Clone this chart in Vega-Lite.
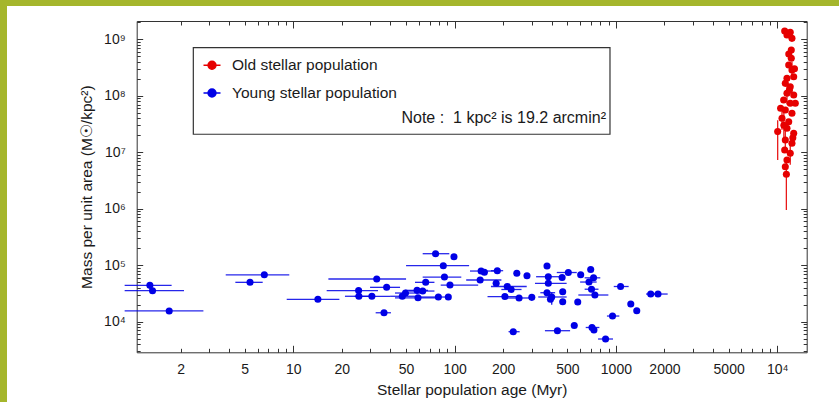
{
  "$schema": "https://vega.github.io/schema/vega-lite/v6.json",
  "autosize": {"type": "none"},
  "width": 832,
  "height": 396,
  "padding": {"left": 7, "top": 6, "right": 0, "bottom": 0},
  "background": "#a5b62c",
  "config": {
    "view": {"fill": "white", "stroke": null},
    "font": "Liberation Sans",
    "axis": {
      "grid": false,
      "domainColor": "#333333",
      "tickColor": "#333333",
      "tickWidth": 1,
      "labelColor": "#1a1a1a",
      "titleColor": "#1a1a1a",
      "labelFont": "Liberation Sans",
      "titleFont": "Liberation Sans",
      "titleFontWeight": "normal",
      "labelFontSize": 14,
      "titleFontSize": 15.5,
      "labelFlush": false,
      "labelOverlap": false
    },
    "legend": {
      "orient": "none", "legendX": 195.5, "legendY": 49.8, "zindex": 2,
      "padding": 0,
      "symbolType": "M-1,0H1M0.47,0A0.47,0.47,0,1,1,-0.47,0A0.47,0.47,0,1,1,0.47,0Z",
      "symbolSize": 289, "symbolStrokeWidth": 1.4, "symbolOpacity": 1,
      "labelFont": "Liberation Sans", "labelFontSize": 15.5, "labelColor": "#1a1a1a",
      "labelOffset": 10.5, "rowPadding": 9.7, "labelLimit": 300
    }
  },
  "data": {"name": "pops"},
  "datasets": {
    "pops": [
      {"pop": "Young stellar population", "age": 1.29, "mass": 44000, "age_lo": 0.9, "age_hi": 1.76},
      {"pop": "Young stellar population", "age": 1.34, "mass": 35400, "age_lo": 0.9, "age_hi": 2.10},
      {"pop": "Young stellar population", "age": 1.70, "mass": 15500, "age_lo": 0.9, "age_hi": 2.77},
      {"pop": "Young stellar population", "age": 5.39, "mass": 49800, "age_lo": 4.37, "age_hi": 6.46},
      {"pop": "Young stellar population", "age": 6.61, "mass": 67600, "age_lo": 3.81, "age_hi": 9.44},
      {"pop": "Young stellar population", "age": 14.2, "mass": 24900, "age_lo": 9.1, "age_hi": 19.3},
      {"pop": "Young stellar population", "age": 32.9, "mass": 57000, "age_lo": 16.5, "age_hi": 50.0},
      {"pop": "Young stellar population", "age": 25.4, "mass": 35600, "age_lo": 16.1, "age_hi": 33.5},
      {"pop": "Young stellar population", "age": 25.5, "mass": 28200, "age_lo": 20.9, "age_hi": 30.7},
      {"pop": "Young stellar population", "age": 30.7, "mass": 28200, "age_lo": 24.0, "age_hi": 39.8},
      {"pop": "Young stellar population", "age": 37.9, "mass": 40600, "age_lo": 29.9, "age_hi": 45.9},
      {"pop": "Young stellar population", "age": 36.5, "mass": 14400, "age_lo": 32.4, "age_hi": 40.3},
      {"pop": "Young stellar population", "age": 47.4, "mass": 28200, "age_lo": 39.8, "age_hi": 56.8},
      {"pop": "Young stellar population", "age": 49.6, "mass": 32200, "age_lo": 42.7, "age_hi": 61.0},
      {"pop": "Young stellar population", "age": 58.5, "mass": 35900, "age_lo": 49.2, "age_hi": 68.4},
      {"pop": "Young stellar population", "age": 63.4, "mass": 34900, "age_lo": 52.0, "age_hi": 75.0},
      {"pop": "Young stellar population", "age": 59.3, "mass": 26500, "age_lo": 42.7, "age_hi": 81.0},
      {"pop": "Young stellar population", "age": 66.2, "mass": 49800, "age_lo": 56.8, "age_hi": 75.0},
      {"pop": "Young stellar population", "age": 76.2, "mass": 160000, "age_lo": 63.4, "age_hi": 92.7},
      {"pop": "Young stellar population", "age": 99.1, "mass": 141000},
      {"pop": "Young stellar population", "age": 85.1, "mass": 98000, "age_lo": 50.0, "age_hi": 123},
      {"pop": "Young stellar population", "age": 86.5, "mass": 61800, "age_lo": 63.4, "age_hi": 110},
      {"pop": "Young stellar population", "age": 93.6, "mass": 44600, "age_lo": 82.0, "age_hi": 140},
      {"pop": "Young stellar population", "age": 79.3, "mass": 27350, "age_lo": 61.6, "age_hi": 93.6},
      {"pop": "Young stellar population", "age": 91.4, "mass": 27350},
      {"pop": "Young stellar population", "age": 146, "mass": 78900, "age_lo": 124.5, "age_hi": 178},
      {"pop": "Young stellar population", "age": 153, "mass": 74900},
      {"pop": "Young stellar population", "age": 144, "mass": 54700, "age_lo": 118, "age_hi": 195},
      {"pop": "Young stellar population", "age": 184, "mass": 80000, "age_lo": 168, "age_hi": 200},
      {"pop": "Young stellar population", "age": 181, "mass": 47800},
      {"pop": "Young stellar population", "age": 212, "mass": 42000, "age_lo": 168, "age_hi": 280},
      {"pop": "Young stellar population", "age": 224, "mass": 37200, "age_lo": 195, "age_hi": 260},
      {"pop": "Young stellar population", "age": 205, "mass": 27900, "age_lo": 160, "age_hi": 260},
      {"pop": "Young stellar population", "age": 251, "mass": 26300, "age_lo": 205, "age_hi": 300},
      {"pop": "Young stellar population", "age": 231, "mass": 6650, "age_lo": 216, "age_hi": 253},
      {"pop": "Young stellar population", "age": 243, "mass": 71900},
      {"pop": "Young stellar population", "age": 281, "mass": 64900},
      {"pop": "Young stellar population", "age": 301, "mass": 27000},
      {"pop": "Young stellar population", "age": 374, "mass": 96800},
      {"pop": "Young stellar population", "age": 381, "mass": 62600, "age_lo": 320, "age_hi": 470},
      {"pop": "Young stellar population", "age": 381, "mass": 47800, "age_lo": 315, "age_hi": 495},
      {"pop": "Young stellar population", "age": 374, "mass": 32600, "age_lo": 340, "age_hi": 420},
      {"pop": "Young stellar population", "age": 400, "mass": 27400, "age_lo": 330, "age_hi": 495, "mass_lo": 20000, "mass_hi": 33000},
      {"pop": "Young stellar population", "age": 393, "mass": 24900},
      {"pop": "Young stellar population", "age": 464, "mass": 60600},
      {"pop": "Young stellar population", "age": 507, "mass": 74300, "age_lo": 430, "age_hi": 572},
      {"pop": "Young stellar population", "age": 468, "mass": 34000},
      {"pop": "Young stellar population", "age": 468, "mass": 22600},
      {"pop": "Young stellar population", "age": 580, "mass": 22300},
      {"pop": "Young stellar population", "age": 605, "mass": 67600},
      {"pop": "Young stellar population", "age": 698, "mass": 83900},
      {"pop": "Young stellar population", "age": 727, "mass": 59800, "age_lo": 640, "age_hi": 800},
      {"pop": "Young stellar population", "age": 681, "mass": 50400, "age_lo": 600, "age_hi": 760},
      {"pop": "Young stellar population", "age": 706, "mass": 37600, "age_lo": 640, "age_hi": 780},
      {"pop": "Young stellar population", "age": 741, "mass": 29700, "age_lo": 585, "age_hi": 898},
      {"pop": "Young stellar population", "age": 434, "mass": 6930, "age_lo": 363, "age_hi": 520},
      {"pop": "Young stellar population", "age": 552, "mass": 8570},
      {"pop": "Young stellar population", "age": 711, "mass": 7900, "age_lo": 650, "age_hi": 790},
      {"pop": "Young stellar population", "age": 731, "mass": 7130},
      {"pop": "Young stellar population", "age": 863, "mass": 4940, "age_lo": 775, "age_hi": 960},
      {"pop": "Young stellar population", "age": 953, "mass": 12600, "age_lo": 880, "age_hi": 1050},
      {"pop": "Young stellar population", "age": 1069, "mass": 42000, "age_lo": 970, "age_hi": 1200},
      {"pop": "Young stellar population", "age": 1237, "mass": 20600},
      {"pop": "Young stellar population", "age": 1347, "mass": 15650},
      {"pop": "Young stellar population", "age": 1644, "mass": 30900, "age_lo": 1538, "age_hi": 1750},
      {"pop": "Young stellar population", "age": 1824, "mass": 30900, "age_lo": 1700, "age_hi": 2094},
      {"pop": "Old stellar population", "age": 11130, "mass": 1.40e9},
      {"pop": "Old stellar population", "age": 12050, "mass": 1.33e9},
      {"pop": "Old stellar population", "age": 11500, "mass": 1.19e9},
      {"pop": "Old stellar population", "age": 12350, "mass": 1.04e9},
      {"pop": "Old stellar population", "age": 12230, "mass": 6.47e8},
      {"pop": "Old stellar population", "age": 11800, "mass": 5.5e8},
      {"pop": "Old stellar population", "age": 12230, "mass": 4.61e8},
      {"pop": "Old stellar population", "age": 11790, "mass": 3.51e8},
      {"pop": "Old stellar population", "age": 12800, "mass": 3.0e8},
      {"pop": "Old stellar population", "age": 12350, "mass": 2.86e8, "mass_lo": 2.0e8, "mass_hi": 4.0e8},
      {"pop": "Old stellar population", "age": 12660, "mass": 2.18e8},
      {"pop": "Old stellar population", "age": 11500, "mass": 2.04e8},
      {"pop": "Old stellar population", "age": 11230, "mass": 1.66e8},
      {"pop": "Old stellar population", "age": 12050, "mass": 1.45e8},
      {"pop": "Old stellar population", "age": 11900, "mass": 1.25e8},
      {"pop": "Old stellar population", "age": 11500, "mass": 1.11e8, "mass_lo": 7.0e7, "mass_hi": 1.6e8},
      {"pop": "Old stellar population", "age": 12660, "mass": 1.03e8},
      {"pop": "Old stellar population", "age": 10970, "mass": 8.43e7},
      {"pop": "Old stellar population", "age": 12050, "mass": 7.37e7},
      {"pop": "Old stellar population", "age": 12950, "mass": 7.37e7},
      {"pop": "Old stellar population", "age": 10500, "mass": 6.0e7},
      {"pop": "Old stellar population", "age": 11230, "mass": 5.61e7},
      {"pop": "Old stellar population", "age": 12350, "mass": 4.90e7},
      {"pop": "Old stellar population", "age": 10710, "mass": 4.00e7, "mass_lo": 2.5e7, "mass_hi": 6.0e7},
      {"pop": "Old stellar population", "age": 11790, "mass": 3.48e7},
      {"pop": "Old stellar population", "age": 11000, "mass": 3.0e7, "mass_lo": 1.5e7, "mass_hi": 5.0e7},
      {"pop": "Old stellar population", "age": 11500, "mass": 2.66e7},
      {"pop": "Old stellar population", "age": 10070, "mass": 2.32e7, "mass_lo": 7.3e6, "mass_hi": 3.7e7},
      {"pop": "Old stellar population", "age": 12660, "mass": 2.17e7},
      {"pop": "Old stellar population", "age": 12500, "mass": 1.8e7},
      {"pop": "Old stellar population", "age": 11230, "mass": 1.65e7, "mass_lo": 1.1e7, "mass_hi": 2.4e7},
      {"pop": "Old stellar population", "age": 12350, "mass": 1.44e7},
      {"pop": "Old stellar population", "age": 11130, "mass": 1.10e7},
      {"pop": "Old stellar population", "age": 12050, "mass": 9.6e6, "mass_lo": 6.0e6, "mass_hi": 1.5e7},
      {"pop": "Old stellar population", "age": 11500, "mass": 7.3e6},
      {"pop": "Old stellar population", "age": 11230, "mass": 5.56e6},
      {"pop": "Old stellar population", "age": 11400, "mass": 4.08e6, "mass_lo": 9.5e5, "mass_hi": 7.0e6}
    ]
  },
  "layer": [
    {
      "data": {"values": [{}]},
      "mark": {"type": "rect", "fill": "white", "stroke": "#333333", "strokeWidth": 1.2},
      "encoding": {
        "x": {
          "datum": 2.399, "type": "quantitative",
          "scale": {"type": "log", "domain": [1.069, 15240], "range": [129.7, 799.7], "nice": false},
          "axis": {
            "orient": "bottom", "offset": -49.7,
            "values": [2, 5, 10, 20, 50, 100, 200, 500, 1000, 2000, 5000, 10000],
            "ticks": false, "domain": true, "labelPadding": 10,
            "labelExpr": "datum.value >= 10000 ? '10⁴' : format(datum.value, 'd')",
            "title": "Stellar population age (Myr)", "titlePadding": 6
          }
        },
        "x2": {"datum": 919.1},
        "y": {
          "datum": 7.10e8, "type": "quantitative",
          "scale": {"type": "log", "domain": [2873, 2.109e9], "range": [346.3, 15], "nice": false},
          "axis": {
            "orient": "left", "offset": -129.7,
            "values": [1e4, 1e5, 1e6, 1e7, 1e8, 1e9],
            "ticks": false, "domain": true, "labelPadding": 11.5,
            "labelExpr": "'10' + ['⁰','¹','²','³','⁴','⁵','⁶','⁷','⁸','⁹'][round(log(datum.value) / LN10)]",
            "title": "Mass per unit area (M☉/kpc²)", "titlePadding": 9
          }
        },
        "y2": {"datum": 2.083e7}
      }
    },
    {
      "transform": [{"filter": "isValid(datum.age_lo)"}],
      "mark": {"type": "rule", "strokeWidth": 1.3, "clip": true, "opacity": 0.85},
      "encoding": {
        "x": {
          "field": "age_lo", "type": "quantitative",
          "scale": {"type": "log", "domain": [1.069, 15240], "range": [129.7, 799.7], "nice": false},
          "axis": {"orient": "bottom", "offset": -49.7, "values": [10, 100, 1000, 10000], "labels": false, "domain": false, "tickSize": -7, "title": null}
        },
        "x2": {"field": "age_hi"},
        "y": {
          "field": "mass", "type": "quantitative",
          "scale": {"type": "log", "domain": [2873, 2.109e9], "range": [346.3, 15], "nice": false},
          "axis": {"orient": "left", "offset": -129.7, "values": [1e4, 1e5, 1e6, 1e7, 1e8, 1e9], "labels": false, "domain": false, "tickSize": -6, "title": null}
        },
        "color": {
          "field": "pop", "type": "nominal",
          "scale": {"domain": ["Old stellar population", "Young stellar population"], "range": ["#e60000", "#0000e6"]},
          "legend": {"title": null}
        }
      }
    },
    {
      "transform": [{"filter": "isValid(datum.mass_lo)"}],
      "mark": {"type": "rule", "strokeWidth": 1.3, "clip": true, "opacity": 0.9},
      "encoding": {
        "x": {
          "field": "age", "type": "quantitative",
          "scale": {"type": "log", "domain": [1.069, 15240], "range": [129.7, 799.7], "nice": false},
          "axis": {"orient": "bottom", "offset": -49.7, "values": [2, 3, 4, 5, 6, 7, 8, 9, 20, 30, 40, 50, 60, 70, 80, 90, 200, 300, 400, 500, 600, 700, 800, 900, 2000, 3000, 4000, 5000, 6000, 7000, 8000, 9000], "labels": false, "domain": false, "tickSize": -4, "title": null}
        },
        "y": {
          "field": "mass_lo", "type": "quantitative",
          "scale": {"type": "log", "domain": [2873, 2.109e9], "range": [346.3, 15], "nice": false},
          "axis": {"orient": "left", "offset": -129.7, "values": [3e3, 4e3, 5e3, 6e3, 7e3, 8e3, 9e3, 2e4, 3e4, 4e4, 5e4, 6e4, 7e4, 8e4, 9e4, 2e5, 3e5, 4e5, 5e5, 6e5, 7e5, 8e5, 9e5, 2e6, 3e6, 4e6, 5e6, 6e6, 7e6, 8e6, 9e6, 2e7, 3e7, 4e7, 5e7, 6e7, 7e7, 8e7, 9e7, 2e8, 3e8, 4e8, 5e8, 6e8, 7e8, 8e8, 9e8, 2e9], "labels": false, "domain": false, "tickSize": -3.5, "title": null}
        },
        "y2": {"field": "mass_hi"},
        "color": {
          "field": "pop", "type": "nominal",
          "scale": {"domain": ["Old stellar population", "Young stellar population"], "range": ["#e60000", "#0000e6"]},
          "legend": {"title": null}
        }
      }
    },
    {
      "mark": {"type": "circle", "size": 50, "opacity": 1},
      "encoding": {
        "x": {
          "field": "age", "type": "quantitative",
          "scale": {"type": "log", "domain": [1.069, 15240], "range": [129.7, 799.7], "nice": false},
          "axis": {"orient": "top", "offset": -15, "values": [10, 100, 1000, 10000], "labels": false, "domain": true, "tickSize": -7, "title": null}
        },
        "y": {
          "field": "mass", "type": "quantitative",
          "scale": {"type": "log", "domain": [2873, 2.109e9], "range": [346.3, 15], "nice": false},
          "axis": {"orient": "right", "offset": -32.3, "values": [1e4, 1e5, 1e6, 1e7, 1e8, 1e9], "labels": false, "domain": true, "tickSize": -6, "title": null}
        },
        "color": {
          "field": "pop", "type": "nominal",
          "scale": {"domain": ["Old stellar population", "Young stellar population"], "range": ["#e60000", "#0000e6"]},
          "legend": {
            "title": null,
            "encode": {"symbols": {"update": {"stroke": {"scale": "color", "field": "value"}, "fill": {"scale": "color", "field": "value"}}}}
          }
        }
      }
    },
    {
      "data": {"values": [{}]},
      "mark": {"type": "text", "align": "right", "baseline": "middle", "font": "Liberation Sans", "fontSize": 16, "color": "#1a1a1a"},
      "encoding": {
        "x": {
          "datum": 868, "type": "quantitative",
          "scale": {"type": "log", "domain": [1.069, 15240], "range": [129.7, 799.7], "nice": false},
          "axis": {"orient": "top", "offset": -15, "values": [2, 3, 4, 5, 6, 7, 8, 9, 20, 30, 40, 50, 60, 70, 80, 90, 200, 300, 400, 500, 600, 700, 800, 900, 2000, 3000, 4000, 5000, 6000, 7000, 8000, 9000], "labels": false, "domain": false, "tickSize": -4, "title": null}
        },
        "y": {
          "datum": 4.0e7, "type": "quantitative",
          "scale": {"type": "log", "domain": [2873, 2.109e9], "range": [346.3, 15], "nice": false},
          "axis": {"orient": "right", "offset": -32.3, "values": [3e3, 4e3, 5e3, 6e3, 7e3, 8e3, 9e3, 2e4, 3e4, 4e4, 5e4, 6e4, 7e4, 8e4, 9e4, 2e5, 3e5, 4e5, 5e5, 6e5, 7e5, 8e5, 9e5, 2e6, 3e6, 4e6, 5e6, 6e6, 7e6, 8e6, 9e6, 2e7, 3e7, 4e7, 5e7, 6e7, 7e7, 8e7, 9e7, 2e8, 3e8, 4e8, 5e8, 6e8, 7e8, 8e8, 9e8, 2e9], "labels": false, "domain": false, "tickSize": -3.5, "title": null}
        },
        "text": {"value": "Note : \u00a01 kpc² is 19.2 arcmin²"}
      }
    }
  ],
  "resolve": {"axis": {"x": "independent", "y": "independent"}}
}
